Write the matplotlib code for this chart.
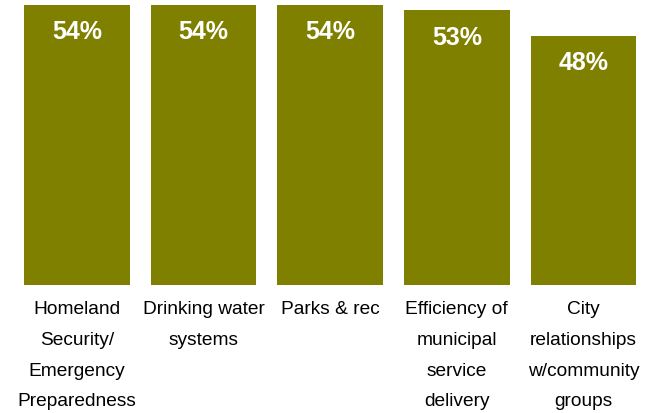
import matplotlib.pyplot as plt

categories = ["Homeland\nSecurity/\nEmergency\nPreparedness",
              "Drinking water\nsystems",
              "Parks & rec",
              "Efficiency of\nmunicipal\nservice\ndelivery",
              "City\nrelationships\nw/community\ngroups"]
values = [54, 54, 54, 53, 48]
value_labels = ["54%", "54%", "54%", "53%", "48%"]

plt.rcParams['font.family'] = ['Liberation Sans', 'DejaVu Sans']

fig = plt.figure(figsize=(6.49, 4.14), dpi=100)
ax = fig.add_axes([13.7 / 649, (414 - 286) / 414, 633 / 649, 286 / 414])

x = list(range(len(values)))
ax.bar(x, values, width=0.835, color="#808000")

for xi, v, lab in zip(x, values, value_labels):
    ax.annotate(lab, (xi, v), xytext=(0, -19), textcoords="offset points",
                ha="center", va="center", color="white",
                fontsize=18, fontweight="bold")

ax.set_xlim(-0.5, 4.5)
ax.set_ylim(0, 55.15)
ax.set_xticks(x)
ax.set_xticklabels(categories, fontsize=13.8, linespacing=2.05)
ax.tick_params(axis="x", length=0, pad=11)
ax.set_yticks([])
for s in ax.spines.values():
    s.set_visible(False)

fig.savefig("out.png", dpi=100)
